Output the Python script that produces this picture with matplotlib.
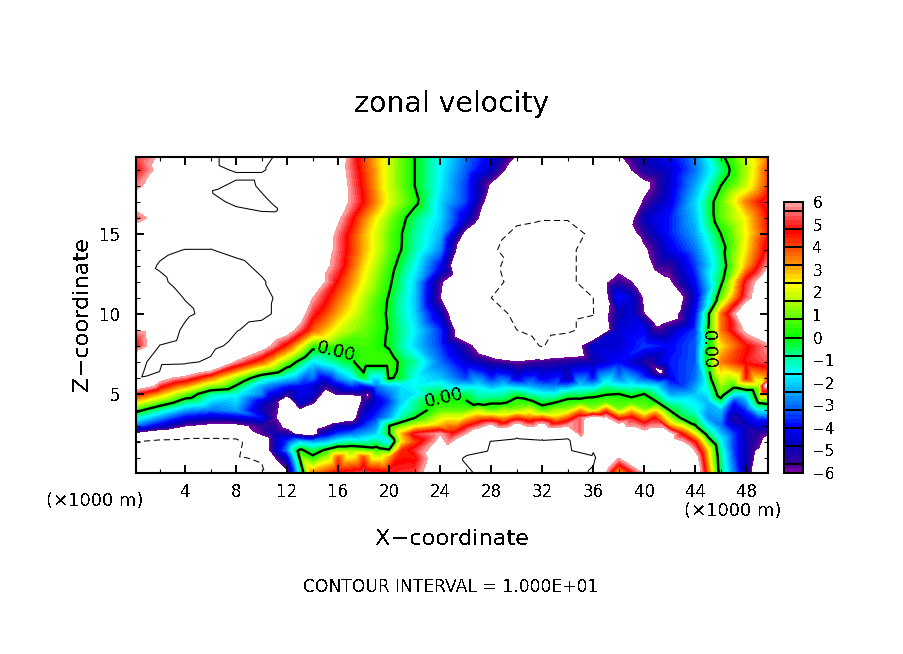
#!/usr/bin/env python3
"""Zonal velocity cross section, values read off the reference picture."""

import matplotlib
matplotlib.use("Agg")
import matplotlib.pyplot as plt
from matplotlib.colors import LinearSegmentedColormap
import numpy as np

W, H = 904, 654

x_km = [0, 2, 4, 6, 8, 10, 12, 14, 16, 18, 20, 22, 24, 26, 28, 30, 32, 34, 36, 38, 40, 42, 44, 46, 48, 50]
z_km = [19.8, 19, 18, 17, 16, 15, 14, 13, 12, 11, 10, 9, 8, 7, 6, 5, 4, 3, 2, 1, 0]

# one row per height, top of the section first
u = [
    [5, 6.2, 8, 9.5, 11, 10.8, 9, 8, 7, 4, 1.8, 0, -1.5, -3, -4.3, -6.2, -8.5, -8, -7, -6.2, -4.8, -4, -2.8, -0.3, 1.8, 4],
    [4.5, 6.5, 8.5, 9.5, 10.2, 10.2, 9, 8, 6.8, 4.2, 1.8, 0, -1.6, -3.2, -4.8, -7, -9, -8.5, -7.5, -6.8, -5.2, -4.5, -3, -0.8, 1.5, 4.5],
    [5.5, 7, 8, 9.7, 11, 9.7, 9, 8, 7, 4.4, 1.8, 0, -1.7, -3.5, -6.3, -9, -9.5, -9, -8, -9, -6.5, -4.5, -2.5, 0, 1.8, 4.5],
    [7, 7.5, 8, 9.3, 10.5, 10.4, 9.3, 8, 7, 4.6, 2, 0.3, -2, -3.5, -7, -9.5, -9.8, -9.6, -9, -9, -5.8, -4.3, -2, 0.8, 3.5, 5.5],
    [5, 7, 8, 9, 9.5, 9.5, 9, 8, 6.3, 3.5, 1.2, -0.6, -2, -4.5, -7.5, -9.5, -9.8, -9.8, -9.5, -8, -4.8, -3.8, -2.2, 0.8, 2.5, 5],
    [7.5, 8, 8.5, 9, 8.8, 8.6, 8.6, 8.5, 5.6, 3, 0.9, -0.9, -2.3, -6.5, -9, -10.5, -11, -11, -9.5, -7.5, -5.5, -3.8, -2.5, 0, 2.3, 4.8],
    [8, 9.5, 10.05, 10.05, 9.5, 9, 8.5, 8, 5.5, 3, 0.9, -1, -2.8, -8, -9.5, -11.5, -12, -10.5, -9, -9, -6.3, -4.3, -3, -0.5, 2.5, 5.5],
    [8.5, 10.2, 11, 11, 10.5, 9.6, 8.5, 7.5, 5.3, 2.6, 0.5, -1.5, -4, -9, -9.7, -10.5, -10.5, -10.5, -9, -8, -7, -5.5, -3.5, -0.8, 3, 6.5],
    [9, 9.6, 10.8, 11.5, 11.5, 10.2, 9, 7.5, 4.5, 2.2, 0.2, -2, -5.8, -8, -9.5, -10.5, -11, -10.5, -9, -5.5, -7.5, -6.2, -4, -0.3, 5, 8],
    [8.5, 8.8, 10.1, 11, 11.5, 10.8, 9, 6, 3.7, 1.6, -0.1, -2.1, -6, -8.5, -10, -10.6, -11, -10.8, -10, -3.8, -6.3, -9, -4.5, 0.8, 5.5, 8],
    [7.5, 8.5, 9.5, 10.8, 11.2, 10.8, 8.7, 5, 3, 1.3, -0.2, -2, -4.8, -8.5, -9, -10.5, -11, -10.5, -10.1, -5, -6, -7, -4, 3.5, 8, 10],
    [6, 8, 10.5, 12.5, 10.2, 8.8, 7, 3.8, 2, 1, -0.1, -1.7, -3.6, -8, -9.5, -10, -11, -10.5, -9, -4.5, -4, -5, -3.5, 3.5, 6.5, 6.5],
    [4.5, 10.1, 11, 11, 9, 7, 4.2, 0.5, 0.5, 0.6, -0.15, -2, -3.5, -5.5, -7.5, -8.5, -10.2, -8, -4.5, -4.5, -3.5, -4, -3.2, 2.5, 4.5, 6],
    [7, 10.8, 10.6, 9.5, 5.8, 3.8, 1, -1.8, -0.7, 0.6, 0.6, -0.9, -3, -4.5, -5.5, -6, -5.6, -5.3, -5, -4, -5.3, -3.8, -3.2, 3.5, 4.8, 5.5],
    [8, 7, 5.5, 3.5, 1.3, -0.9, -2, -3, -2.8, -0.3, 0.2, -1.5, -2.2, -3.5, -3.8, -4.5, -4.3, -5.2, -4, -3, -3.5, -4.2, -3, 2, 4.5, 4.8],
    [4.8, 3, 1, -1, -1.5, -2.8, -5.5, -4.5, -5.8, -5.5, -3, -1.8, -0.3, -0.5, -1.2, -0.4, -1.5, -0.7, -0.4, 0, 0, -2.5, -2.2, 0.8, -1.5, 3],
    [0.6, -1, -2.5, -3, -2.5, -5, -7, -7.5, -8, -5, -3, -0.8, 0.8, 0.8, 0.8, 1.3, 0.6, 1.5, 1.5, 1.2, 1.2, -0.1, -1.4, -2.2, -3.6, -1.5],
    [-3, -4.5, -6, -6.5, -6.5, -5.5, -6.5, -7, -5, -3.6, 0, 2, 3, 4.5, 6.5, 7, 7, 6, 7.5, 7, 5.3, 3.2, 0.1, -3, -5, -5],
    [-10, -10.8, -11, -11, -10.8, -7.5, -3.5, -2.5, -1.3, -1.2, -1.8, 4, 6.5, 7.5, 10.2, 11, 10.5, 11, 9, 8, 8, 7, 4.5, -1.5, -5, -7],
    [-11, -11, -11, -11, -10.4, -9.5, -4.5, 0.3, 4, 4, 3.2, 4.5, 7.5, 10.3, 11, 12, 12, 12, 10.5, 6, 7.5, 8, 7, -0.8, -5, -10],
    [-12, -12, -12, -12, -12, -11, -6.5, 3.5, 5, 5.5, 5, 5.2, 8, 9.5, 11, 12, 12, 12, 9.5, 2.5, 6, 9, 8, -0.6, -5, -11],
]

# extra readings where the section has more detail than the 2 km x 1 km table
extra_pts = [
    # upper left loops
    (6, 18.5, 9.2), (8, 18.5, 9.6), (10, 18.5, 9.6), (12, 18.5, 9), (6.2, 17.6, 10.1),
    (8, 16.7, 10), (10, 16.4, 10), (11, 16.5, 10.2), (11, 17, 9.8), (11, 16, 9.4), (12, 16.5, 9.4),
    (1, 8, 6), (1, 9, 6.2), (1, 7, 10), (1, 6.5, 10.5), (1, 6.12, 10), (0.6, 6.06, 10), (0, 6.5, 8),
    (2, 6.4, 10), (3, 6, 6),
    # zero line nose near x=20
    (20.5, 7.5, -0.3), (21, 7, -0.3), (21, 6, -0.4), (19, 8, 0.3), (17, 7, -0.2), (17, 6, -1.9),
    # lower left, z=5.5
    (10, 5.5, -2.5), (12, 5.5, -3.8), (13, 5.5, -4), (14, 5.5, -4.5), (15, 5.5, -5.5), (16, 5.5, -4.5),
    (17, 5.5, -3.5), (18, 5.5, -4), (19, 5.5, -3), (20, 5.5, -2.2), (21, 5.5, -1.8), (22, 5.5, -1.5),
    # z=4.5
    (10, 4.5, -4.5), (11, 4.5, -5.5), (12, 4.5, -8), (13, 4.5, -4.5), (14, 4.5, -5.6), (15, 4.5, -8),
    (16, 4.5, -8), (17, 4.5, -8), (18, 4.5, -5.5), (19, 4.5, -4.5), (20, 4.5, -3.5), (21, 4.5, -2),
    (22, 4.5, -0.9), (18.3, 4.95, -6.3), (13, 4, -6.2),
    # z=3.5
    (10, 3.5, -4), (11, 3.5, -5.8), (12, 3.5, -8), (13, 3.5, -8), (14, 3.5, -8), (15, 3.5, -8),
    (16, 3.5, -8), (17, 3.5, -7), (18, 3.5, -4.5), (19, 3.5, -3.5), (20, 3.5, -2.5), (21, 3.5, -1),
    (22, 3.5, 0),
    # z=2.5
    (10, 2.5, -5.8), (11, 2.5, -5), (12, 2.5, -5.3), (13, 2.5, -6.5), (14, 2.5, -7), (15, 2.5, -4.5),
    (16, 2.5, -3.5), (17, 2.5, -3), (18, 2.5, -2.5), (19, 2.5, -2), (20, 2.5, 0), (21, 2.5, 3),
    (22, 2.5, 5), (24, 2.5, 6), (13, 2, -2),
    # z=1.5
    (10, 1.5, -7.5), (11, 1.5, -5), (12, 1.5, -2.8), (13, 1.5, 0.2), (14, 1.5, -0.6), (15, 1.5, 0.1),
    (16, 1.5, 1), (17, 1.5, 1), (18, 1.5, 0.8), (19, 1.5, 0.5), (20, 1.5, 0.1), (21, 1.5, 4.3),
    (22, 1.5, 5), (21, 2, 2.5), (12.9, 1.4, 0.3),
    # lower right, z=5.5
    (27, 5.5, -1.8), (29, 5.5, -2), (31, 5.5, -2.5), (33, 5.5, -3), (35, 5.5, -2), (37, 5.5, -1),
    (39, 5.5, -1.5), (41, 5.5, -2), (43, 5.5, -3.5), (45, 5.5, -1.2), (47, 5.5, 0.5), (49, 5.5, 1.5),
    (49.5, 5.56, 7),
    # z=4.5
    (27, 4.5, -0.5), (29, 4.5, -0.2), (31, 4.5, 0.3), (33, 4.5, -0.1), (35, 4.5, 0.5), (37, 4.5, 0.8),
    (39, 4.5, 0.6), (41, 4.5, 0), (43, 4.5, -1.4), (45, 4.5, -2.3), (47, 4.5, -3.8), (49, 4.5, 0.3),
    # z=3.5
    (27, 3.5, 3.5), (29, 3.5, 3), (31, 3.5, 3.5), (33, 3.5, 2.8), (35, 3.5, 5.5), (36, 3.5, 7),
    (37, 3.5, 6.5), (39, 3.5, 4.8), (40.8, 3.5, 4.6), (42, 3.5, 1.5), (43, 3.5, -0.3), (45, 3.5, -2.8),
    (47, 3.5, -5.5), (49, 3.5, -3.5),
    # z=2.5
    (25, 2.5, 4.8), (27, 2.5, 7.5), (35, 2.5, 5.5), (37, 2.5, 8), (42, 2.5, 7), (43, 2.5, 4.5),
    (45, 2.5, -0.6), (47, 2.5, -3.5), (49, 2.5, -5.5),
    # z=1.5
    (43, 1.5, 8), (45, 1.5, 2.5), (47, 1.5, -3.5), (48.5, 1.5, -5.5),
    # small blob on the floor near x=38
    (37, 1, 8), (39, 1, 7.5), (37, 0.5, 7), (39, 0.5, 6),
    # lobe and holes around x=40
    (37, 12, -6.2), (39, 12, -6), (37, 11, -6.5), (39, 11, -4.5), (37, 10, -6.3), (39, 10, -4.5),
    (38, 12.5, -6), (43, 11, -6.2), (43, 10, -5.5), (41, 10, -8), (41.5, 10.5, -9), (41, 9.5, -6.5),
    (42.8, 9.6, -5.8), (41.3, 6.38, -6.5), (40.2, 7, -5.5), (41, 13, -5.6),
]

# colour table of the bar, value -> colour
cmap_vals = [-6, -5.6, -4.8, -4, -3.2, -2.4, -1.6, -0.8, 0, 0.8, 1.6, 2.4, 3.2, 4, 4.8, 5.6, 6]
cmap_cols = ["#7000a0", "#300098", "#0000c0", "#0000ff", "#0060ff", "#00b0ff", "#00ffff", "#00ff90",
             "#00ff00", "#50ff00", "#b0ff00", "#ffff00", "#ffa000", "#ff5000", "#ff0000", "#ff6060", "#ff9a9a"]
bar_ticks = [6, 5, 4, 3, 2, 1, 0, -1, -2, -3, -4, -5, -6]
bar_edges = [-6, -5.6, -4.8, -4, -3.2, -2.4, -1.6, -0.8, 0, 0.8, 1.6, 2.4, 3.2, 4, 4.8, 5.6, 6]

plt.rcParams["text.antialiased"] = False
plt.rcParams["font.family"] = "DejaVu Sans"

cmap = LinearSegmentedColormap.from_list(
    "zonal", [((v + 6) / 12, c) for v, c in zip(cmap_vals, cmap_cols)], N=60)
levels = np.arange(-6, 6.01, 0.2)

fig = plt.figure(figsize=(W / 100, H / 100), dpi=100)
ax = fig.add_axes([136 / W, 1 - 473 / H, (768 - 136) / W, (473 - 157) / H])

# table plus extra readings go in as scattered points
xx, zz = np.meshgrid(x_km, z_km)
extra = np.array(extra_pts)
px = np.concatenate([xx.ravel(), extra[:, 0]])
pz = np.concatenate([zz.ravel(), extra[:, 1]])
pu = np.concatenate([np.array(u).ravel(), extra[:, 2]])

ax.tricontourf(px, pz, pu, levels=levels, cmap=cmap, vmin=-6, vmax=6)
ax.tricontour(px, pz, pu, levels=[10], colors="k", linewidths=0.75)
ax.tricontour(px, pz, pu, levels=[-10], colors="k", linewidths=0.75, linestyles=[(0, (6, 3.5))])
cs = ax.tricontour(px, pz, pu, levels=[0], colors="k", linewidths=1.7)
ax.clabel(cs, fmt="%.2f", fontsize=13, inline=True, inline_spacing=2,
          manual=[(15.8, 7.6), (24.3, 4.7), (45.2, 7.7)])

ax.set_xlim(0.15, 49.7)
ax.set_ylim(0.06, 19.8)
ax.set_xticks(np.arange(4, 49, 4))
ax.set_xticks(np.arange(2, 50, 4), minor=True)
ax.set_yticks([5, 10, 15])
ax.set_yticks(np.arange(1, 20), minor=True)
ax.tick_params(which="major", direction="in", length=6, width=1.4, top=True, right=True, labelsize=12)
ax.tick_params(which="minor", direction="in", length=3, width=0.8, top=True, right=True)
ax.tick_params(axis="x", which="major", pad=7)
ax.tick_params(axis="y", which="major", pad=11)
for s in ax.spines.values():
    s.set_linewidth(1.5)

fig.text(452 / W, 1 - 104 / H, "zonal velocity", ha="center", va="center", fontsize=20.4)
fig.text(452 / W, 1 - 539 / H, "X\u2212coordinate", ha="center", va="center", fontsize=16.2)
fig.text(82 / W, 1 - 314 / H, "Z\u2212coordinate", ha="center", va="center", rotation=90, fontsize=16.2)
fig.text(451 / W, 1 - 587 / H, "CONTOUR INTERVAL = 1.000E+01", ha="center", va="center", fontsize=12.3)
fig.text(95 / W, 1 - 501 / H, "(\u00d71000 m)", ha="center", va="center", fontsize=13)
fig.text(733 / W, 1 - 511 / H, "(\u00d71000 m)", ha="center", va="center", fontsize=13)

# label bar: boxes split at the block edges, ticks are only text
cax = fig.add_axes([784 / W, 1 - 473 / H, 19 / W, (473 - 202) / H])
bar_levels = np.linspace(-6, 6, 61)
cax.pcolormesh([0, 1], bar_levels, ((bar_levels[:-1] + bar_levels[1:]) / 2).reshape(-1, 1),
               cmap=cmap, vmin=-6, vmax=6)
cax.hlines(bar_edges, 0, 1, colors="k", linewidth=1.4)
cax.set_xlim(0, 1)
cax.set_ylim(-6, 6)
cax.set_xticks([])
cax.yaxis.tick_right()
cax.set_yticks(bar_ticks)
cax.tick_params(axis="y", length=0, labelsize=11, pad=7)
for s in cax.spines.values():
    s.set_linewidth(1.4)

fig.savefig("out.png", dpi=100)
